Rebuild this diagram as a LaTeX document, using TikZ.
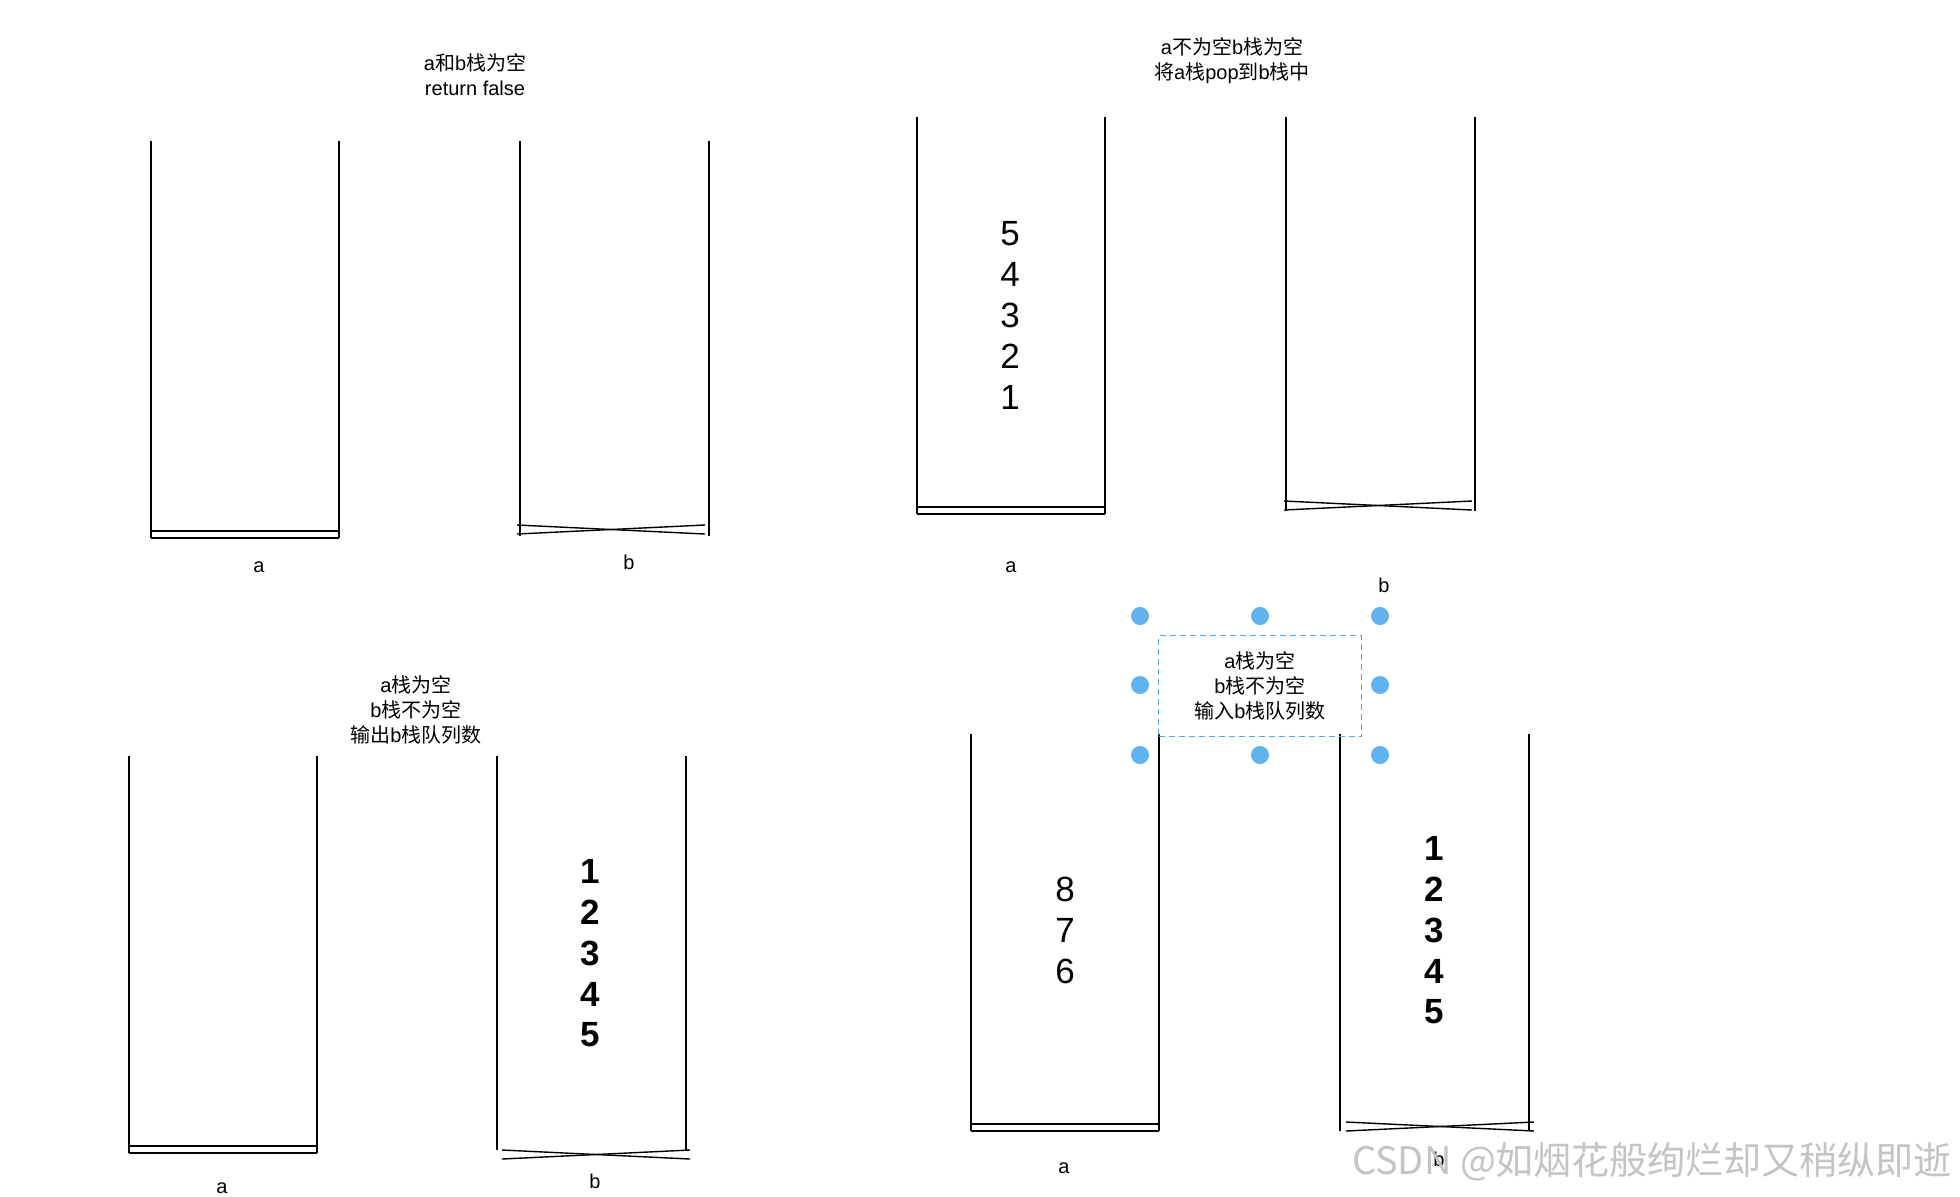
\documentclass[tikz,border=0pt]{standalone}
\usepackage{fontspec}
\setmainfont{Liberation Sans}
\newfontfamily\cjk{Noto Sans CJK SC}
\newcommand{\zh}[1]{{\cjk #1}}
\usepackage{tikz}
\usetikzlibrary{positioning}
\definecolor{cSel}{HTML}{4DAAEA}
\definecolor{cMark}{HTML}{C4C4C4}
\tikzset{
  wall/.style  ={line width=0.7pt, draw=black},
  note/.style  ={align=center, font=\fontsize{10}{12.4}\selectfont, inner sep=0pt},
  tag/.style   ={font=\fontsize{10}{12}\selectfont, inner sep=0pt},
  num/.style   ={font=\fontsize{17.5}{20}\selectfont, inner sep=0pt},
  bnum/.style  ={font=\bfseries\fontsize{17.5}{20}\selectfont, inner sep=0pt},
  handle/.style={circle, fill=cSel!90, minimum size=9pt, inner sep=0pt},
  selbox/.style={draw=cSel, dash pattern=on 3pt off 2pt, line width=0.8pt,
                 minimum width=101.5pt, minimum height=50.5pt},
}

\begin{document}
\begin{tikzpicture}[x=0.5pt, y=-0.5pt]
  \useasboundingbox (0,0) rectangle (1960,1196);
  % stack a: open top, double bottom
  \foreach \l/\t in {151/141, 917/117, 129/756, 971/734}{
    \draw[wall] (\l,\t) -- (\l,{\t+397});
    \draw[wall] ({\l+188},\t) -- ({\l+188},{\t+397});
    \draw[wall, line width=0.9pt] (\l,{\t+390}) -- ({\l+188},{\t+390});
    \draw[wall] (\l,{\t+397}) -- ({\l+188},{\t+397});
  }
  % stack b: open top, crossed bottom
  \foreach \l/\t/\e/\cx/\cy in {520/141/395/517/525, 1286/117/394/1284/501,
                                497/756/394/502/1150, 1340/734/397/1346/1122}{
    \draw[wall] (\l,\t) -- (\l,{\t+\e});
    \draw[wall] ({\l+189},\t) -- ({\l+189},{\t+\e});
    \draw[wall] (\cx,\cy) -- ({\cx+188},{\cy+9});
    \draw[wall] (\cx,{\cy+9}) -- ({\cx+188},\cy);
  }
  \node[tag] (a1) at (259,567)  {a};  \node[tag] (b1) at (629,562)  {b};
  \node[tag] (a2) at (1011,567) {a};  \node[tag] (b2) at (1384,585) {b};
  \node[tag] (a3) at (222,1188) {a};  \node[tag] (b3) at (595,1181) {b};
  \node[tag] (a4) at (1064,1168){a};  \node[tag] (b4) at (1439,1159){b};

  \node[note] (t1) at (475,75)  {a\zh{和}b\zh{栈为空}\\return false};
  \node[note] (t2) at (1232,61) {a\zh{不为空}b\zh{栈为空}\\\zh{将}a\zh{栈}pop\zh{到}b\zh{栈中}};
  \node[note] (t3) at (416,710) {a\zh{栈为空}\\b\zh{栈不为空}\\\zh{输出}b\zh{栈队列数}};

  \foreach \n [count=\i] in {5,4,3,2,1}
    \node[num] (sa\i) at (1010,{193+40.8*\i}) {\n};
  \foreach \n [count=\i] in {1,2,3,4,5}
    \node[bnum] (sb\i) at (590,{830+41*\i}) {\n};
  \foreach \n [count=\i] in {8,7,6}
    \node[num] (ra\i) at (1065,{849+40.8*\i}) {\n};
  \foreach \n [count=\i] in {1,2,3,4,5}
    \node[bnum] (rb\i) at (1434,{808+40.8*\i}) {\n};

  % selected text box
  \node[selbox, note] (sel) at (1260,686) {a\zh{栈为空}\\b\zh{栈不为空}\\\zh{输入}b\zh{栈队列数}};
  \foreach \hx/\hy [count=\k] in {1140/616, 1260/616, 1380/616, 1140/685,
                                  1380/685, 1140/755, 1260/755, 1380/755}
    \node[handle] (hd\k) at (\hx,\hy) {};

  \node[text=cMark, font=\cjk\fontsize{19}{19}\selectfont, inner sep=0pt]
    (mark) at (1652,1162) {CSDN @如烟花般绚烂却又稍纵即逝};
\end{tikzpicture}
\end{document}
